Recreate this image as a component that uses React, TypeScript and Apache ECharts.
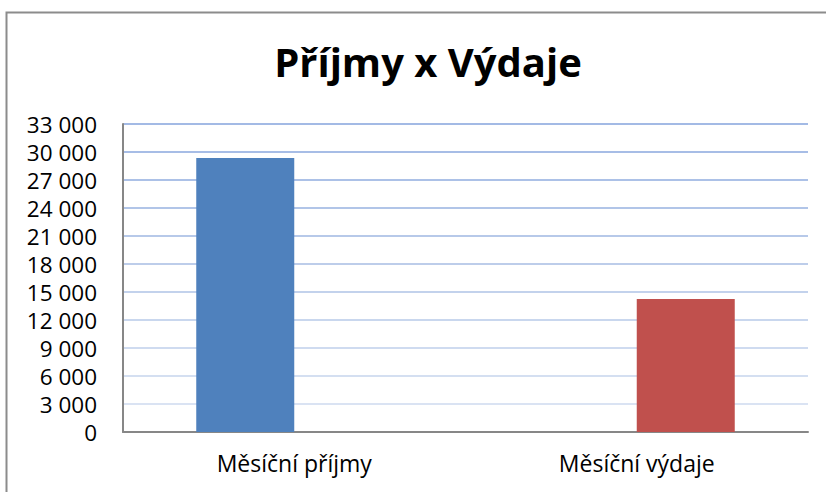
import React, { useEffect, useRef } from "react";
import * as echarts from "echarts";

const categories = ["Měsíční příjmy", "Měsíční výdaje"];
const incomeValues: (number | string)[] = [29350, "-"];
const expenseValues: (number | string)[] = ["-", 14250];
const gridColors = [
  "#dfe7f5", "#dae3f3", "#d4dff1", "#cfdbf0", "#c9d7ee", "#c3d2ec",
  "#bdcdea", "#b7c9e9", "#b1c5e8", "#acc1e7", "#a7bde6", "#a3bae5",
];

export default function App() {
  const ref = useRef<HTMLDivElement>(null);
  useEffect(() => {
    if (!ref.current) return;
    const chart = echarts.init(ref.current, null, { renderer: "svg" });
    const font = "'Open Sans', 'Noto Sans', sans-serif";
    chart.setOption({
      animation: false,
      backgroundColor: "#ffffff",
      title: {
        text: "Příjmy x Výdaje",
        left: 423,
        textAlign: "center",
        top: 36,
        textStyle: { fontFamily: font, fontSize: 40, fontWeight: "bold", color: "#000" },
      },
      graphic: [
        {
          type: "polyline",
          shape: { points: [[6.5, 500], [6.5, 12.5], [826, 12.5]] },
          style: { fill: "none", stroke: "#8c8c8c", lineWidth: 2 },
          silent: true,
        },
      ],
      grid: { left: 123, right: 19, top: 124, bottom: 60, containLabel: false },
      xAxis: {
        type: "category",
        data: categories,
        axisLine: { show: true, lineStyle: { color: "#878787", width: 2 } },
        axisTick: { show: false },
        axisLabel: { fontFamily: font, fontSize: 23, color: "#000", margin: 19 },
      },
      yAxis: {
        type: "value",
        min: 0,
        max: 33000,
        interval: 3000,
        axisLine: { show: true, lineStyle: { color: "#878787", width: 2 } },
        axisTick: { show: false },
        axisLabel: {
          fontFamily: font,
          fontSize: 22.5,
          lineHeight: 22,
          color: "#000",
          margin: 26,
          formatter: (v: number) => String(v).replace(/\B(?=(\d{3})+(?!\d))/g, " "),
        },
        splitLine: { show: true, lineStyle: { color: gridColors, width: 2 } },
      },
      series: [
        {
          type: "bar",
          name: "Příjmy",
          data: incomeValues,
          barWidth: 98,
          barGap: "0%",
          itemStyle: { color: "#4f81bd" },
        },
        {
          type: "bar",
          name: "Výdaje",
          data: expenseValues,
          barWidth: 98,
          barGap: "0%",
          itemStyle: { color: "#c0504d" },
        },
      ],
    });
    return () => chart.dispose();
  }, []);
  return (
    <div
      ref={ref}
      style={{ position: "fixed", left: 0, top: 0, width: 827, height: 492 }}
    />
  );
}
